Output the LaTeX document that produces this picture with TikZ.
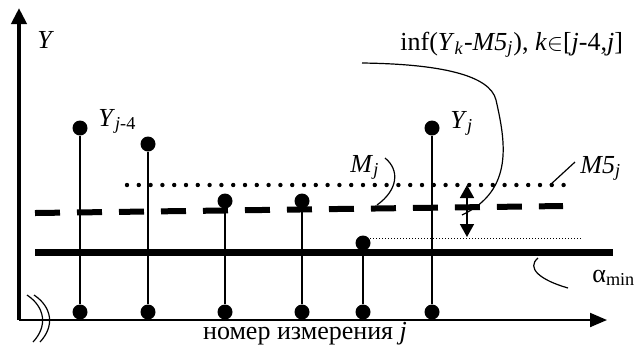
\documentclass[tikz,border=0pt]{standalone}
\usepackage{fontspec}
\setmainfont{Liberation Serif}
\usetikzlibrary{positioning, arrows.meta}

\begin{document}
\begin{tikzpicture}[x=0.5pt, y=-0.5pt,
    every node/.style={font=\fontsize{13}{15}\selectfont},
    dot/.style={circle, fill, inner sep=0pt, minimum size=7.5pt},
    stem/.style={line width=0.9pt},
    lbl/.style={inner sep=0pt, anchor=base west},
    leader/.style={line width=0.6pt}]
      \useasboundingbox (0,0) rectangle (637,345);

      % axes
      \coordinate (o) at (19,320);
      \coordinate (ytop) at (19,8);
      \coordinate (xend) at (607,320);
      \draw[line width=2pt, -{Triangle[length=8pt, width=7.5pt]}] (o) -- (ytop);
      \draw[line width=1pt, -{Triangle[length=8.5pt, width=7pt]}] (o) -- (xend);
      \draw[leader] (27,295) .. controls (45,307) and (48,326) .. (33,342);
      \draw[leader] (34,295) .. controls (52,307) and (55,326) .. (40,342);

      % levels
      \draw[line width=3.5pt] (35,252) -- (613,252);
      \draw[line width=3pt, dash pattern=on 12.5pt off 8.5pt] (35,213) -- (563,206);
      \draw[line width=2.2pt, line cap=round, dash pattern=on 0pt off 5.9pt] (127,185) -- (575,185);
      \draw[line width=0.5pt, dash pattern=on 0.5pt off 1pt] (370,238) -- (583,238);

      % samples
      \node[dot] (b1) at (80,312) {};
      \node[dot] (b2) at (148,312) {};
      \node[dot] (b3) at (225,312) {};
      \node[dot] (b4) at (302,312) {};
      \node[dot] (b5) at (363,312) {};
      \node[dot] (b6) at (432,312) {};
      \node[dot] (t1) at (80,128) {};
      \node[dot] (t2) at (148,144) {};
      \node[dot] (t3) at (225,201) {};
      \node[dot] (t4) at (302,201) {};
      \node[dot] (t5) at (363,243) {};
      \node[dot] (t6) at (432,128) {};

      \draw[stem] (b1) -- (t1);
      \draw[stem] (b2) -- (t2);
      \draw[stem] (b3) -- (t3);
      \draw[stem] (b4) -- (t4);
      \draw[stem] (b5) -- (t5);
      \draw[stem] (b6) -- (t6);

      % gap between M5 and the lowest sample
      \coordinate (gtop) at (467,185);
      \coordinate (gbot) at (467,237);
      \draw[line width=0.8pt, {Triangle[length=6.5pt, width=7pt]}-{Triangle[length=6.5pt, width=7pt]}] (gtop) -- (gbot);

      % labels
      \node[lbl] (ylab) at (37,48) {\textit{Y}};
      \node[lbl] (lyj4) at (98,126) {\textit{Y}\textsubscript{\textit{j}-4}};
      \node[lbl] (lyj) at (450,128) {\textit{Y}\textsubscript{\textit{j}}};
      \node[lbl] (lmj) at (350,172) {\textit{M}\textsubscript{\textit{j}}};
      \node[lbl] (lm5) at (580,173) {\textit{M5}\textsubscript{\textit{j}}};
      \node[lbl] (lalpha) at (592,282) {α\textsubscript{min}};
      \node[lbl] (linf) at (400,50) {inf(\textit{Y}\textsubscript{\textit{k}}-\textit{M5}\textsubscript{\textit{j}}), \textit{k}$\in$[\textit{j}-4,\textit{j}]};
      \node[anchor=base, inner sep=0pt] (xlab) at (305,339) {номер измерения \textit{j}};

      % leaders
      \coordinate (infa) at (362,63);
      \coordinate (infb) at (462,215);
      \draw[leader] (infa) .. controls (440,64) and (490,75) .. (496,100) .. controls (505,140) and (515,190) .. (infb);
      \coordinate (mja) at (385,158);
      \coordinate (mjb) at (377,205);
      \draw[leader] (mja) .. controls (400,170) and (398,190) .. (mjb);
      \coordinate (m5a) at (575,162);
      \coordinate (m5b) at (550,185);
      \draw[leader] (m5a) -- (m5b);
      \coordinate (ala) at (538,258);
      \coordinate (alb) at (568,288);
      \draw[leader] (ala) .. controls (526,268) and (540,280) .. (alb);
\end{tikzpicture}
\end{document}
